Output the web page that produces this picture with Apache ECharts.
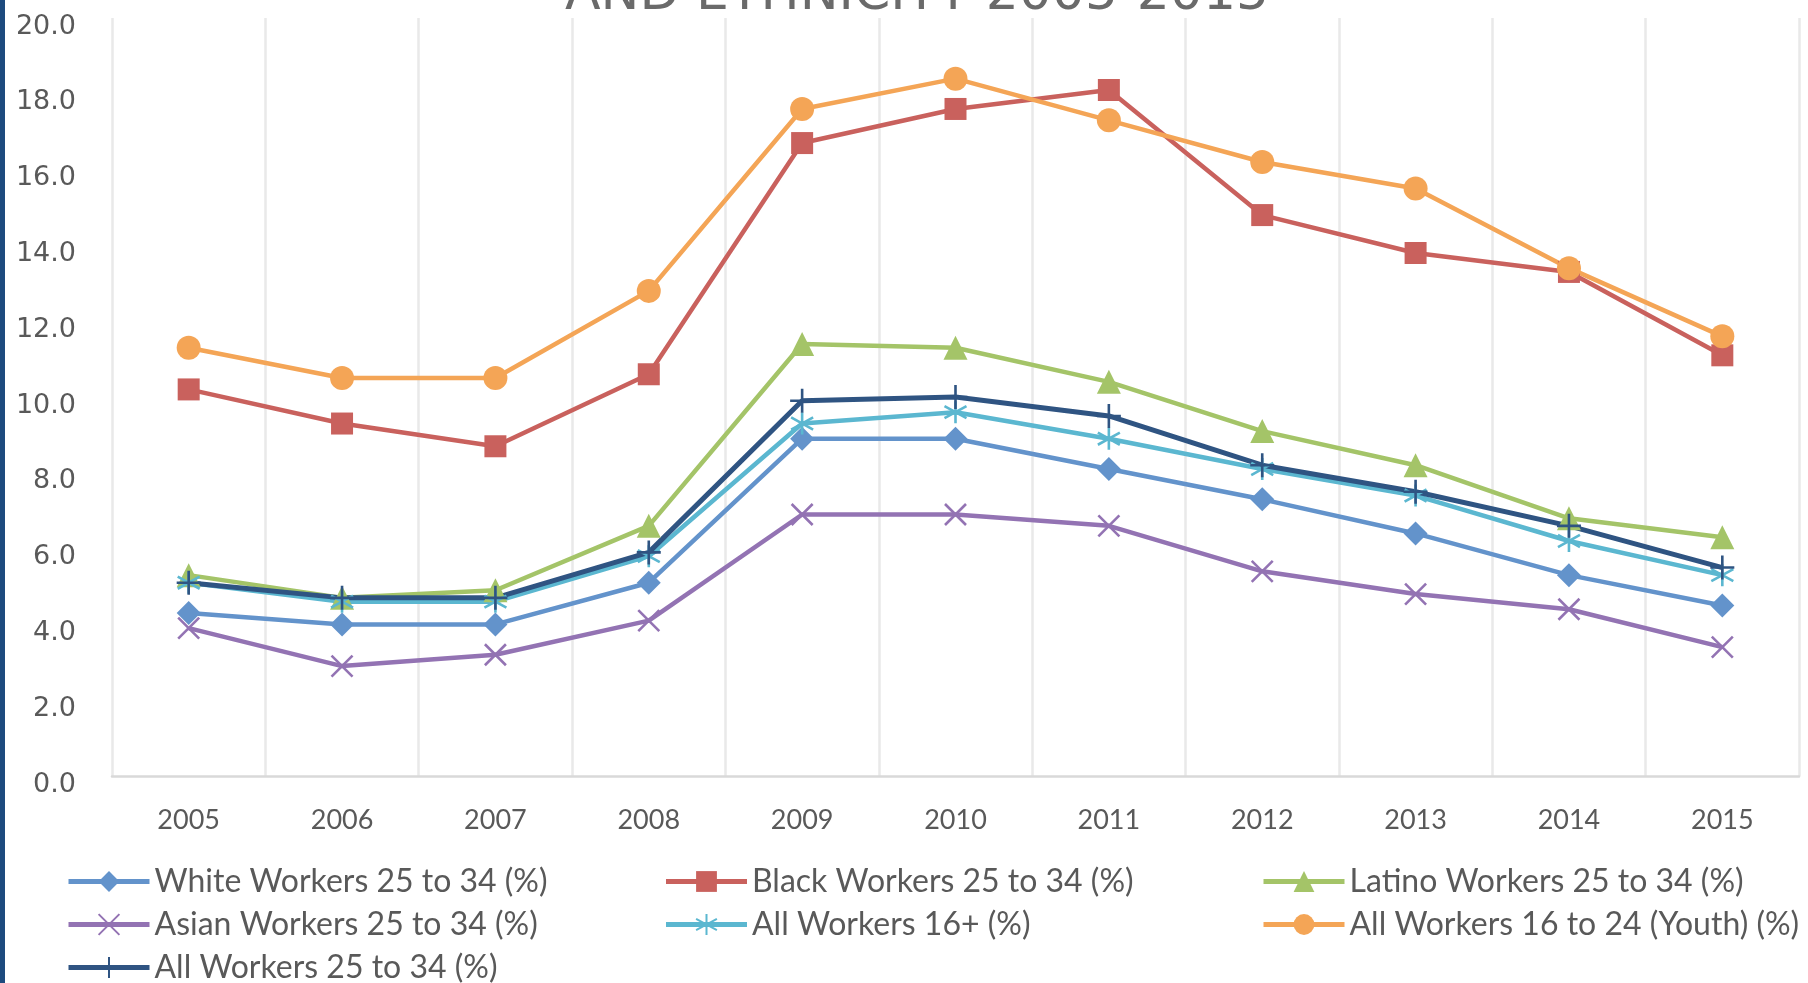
<!DOCTYPE html>
<html>
<head>
<meta charset="utf-8">
<script src="https://cdn.jsdelivr.net/npm/echarts@6/dist/echarts.min.js"></script>
<style>
  html, body { margin: 0; padding: 0; background: #ffffff; }
  #chart { width: 1808px; height: 983px; }
</style>
</head>
<body>
<div id="chart"></div>
<script>
// Unemployment rates by age, race and ethnicity, 2005-2015 (percent)
const years = ['2005', '2006', '2007', '2008', '2009', '2010', '2011', '2012', '2013', '2014', '2015'];

const whiteWorkers  = [4.3, 4.0, 4.0, 5.1, 8.9, 8.9, 8.1, 7.3, 6.4, 5.3, 4.5];
const blackWorkers  = [10.2, 9.3, 8.7, 10.6, 16.7, 17.6, 18.1, 14.8, 13.8, 13.3, 11.1];
const latinoWorkers = [5.3, 4.7, 4.9, 6.6, 11.4, 11.3, 10.4, 9.1, 8.2, 6.8, 6.3];
const asianWorkers  = [3.9, 2.9, 3.2, 4.1, 6.9, 6.9, 6.6, 5.4, 4.8, 4.4, 3.4];
const allWorkers16  = [5.1, 4.6, 4.6, 5.8, 9.3, 9.6, 8.9, 8.1, 7.4, 6.2, 5.3];
const youthWorkers  = [11.3, 10.5, 10.5, 12.8, 17.6, 18.4, 17.3, 16.2, 15.5, 13.4, 11.6];
const allWorkers25  = [5.1, 4.7, 4.7, 5.9, 9.9, 10.0, 9.5, 8.2, 7.5, 6.6, 5.5];

const titleLine = 'AND ETHNICITY 2005-2015';

// Stroke-only marker shapes
const CROSS_X  = 'path://M0,0L20,20M20,0L0,20';
const ASTERISK = 'path://M10,0L10,20M1,4.5L19,15.5M1,15.5L19,4.5';
const PLUS     = 'path://M10,0L10,20M0,10L20,10';

function lineSeries(name, data, color, symbol, size, stroked, width) {
  return {
    name: name,
    type: 'line',
    data: data,
    symbol: symbol,
    symbolSize: size,
    showAllSymbol: true,
    lineStyle: { color: color, width: width || 4.5 },
    itemStyle: stroked
      ? { color: color, borderColor: color, borderWidth: 2.6 }
      : { color: color, borderWidth: 0 },
    emphasis: { disabled: true }
  };
}

const chart = echarts.init(document.getElementById('chart'), null, { renderer: 'canvas' });

chart.setOption({
  animation: false,
  backgroundColor: '#ffffff',
  graphic: [
    { type: 'rect', left: 0, top: 0, shape: { width: 5, height: 983 }, style: { fill: '#1d4a7e' } },
    {
      type: 'text', x: 917, y: -5,
      style: {
        text: titleLine,
        font: 'normal 52px "DejaVu Sans"',
        fill: '#6a6a6a',
        textAlign: 'center',
        textVerticalAlign: 'middle'
      }
    }
  ],
  grid: { left: 112, right: 9, top: 18, bottom: 207, containLabel: false },
  xAxis: {
    type: 'category',
    data: years,
    boundaryGap: true,
    axisLine: { show: true, lineStyle: { color: '#d9d9d9', width: 2.5 } },
    axisTick: { show: false },
    axisLabel: { color: '#595959', fontFamily: 'Lato', fontSize: 27, margin: 31 },
    splitLine: { show: true, lineStyle: { color: '#e9e9e9', width: 2.5 } }
  },
  yAxis: {
    type: 'value',
    min: 0,
    max: 20,
    interval: 2,
    axisLine: { show: false },
    axisTick: { show: false },
    splitLine: { show: false },
    axisLabel: {
      color: '#595959', fontFamily: 'DejaVu Sans', fontSize: 27, margin: 36,
      verticalAlign: 'top',
      lineHeight: 17,
      formatter: function (v) { return v.toFixed(1); }
    }
  },
  legend: {
    left: 66,
    top: 865,
    width: 1800,
    padding: 0,
    itemWidth: 81,
    itemHeight: 26,
    itemGap: 10,
    lineStyle: { width: 5 },
    textStyle: { color: '#595959', fontFamily: 'Lato', fontSize: 32, lineHeight: 33, width: 499 }
  },
  series: [
    lineSeries('White Workers 25 to 34 (%)', whiteWorkers, '#6393cb', 'diamond', 24, false),
    lineSeries('Black Workers 25 to 34 (%)', blackWorkers, '#c9615d', 'rect', 22, false),
    lineSeries('Latino Workers 25 to 34 (%)', latinoWorkers, '#a4c468', 'triangle', 24, false),
    lineSeries('Asian Workers 25 to 34 (%)', asianWorkers, '#9373b3', CROSS_X, 21, true),
    lineSeries('All Workers 16+ (%)', allWorkers16, '#5bb7d0', ASTERISK, 22, true),
    lineSeries('All Workers 16 to 24 (Youth) (%)', youthWorkers, '#f4a556', 'circle', 24, false),
    lineSeries('All Workers 25 to 34 (%)', allWorkers25, '#2f5482', PLUS, 24, true, 5)
  ]
});
</script>
</body>
</html>
